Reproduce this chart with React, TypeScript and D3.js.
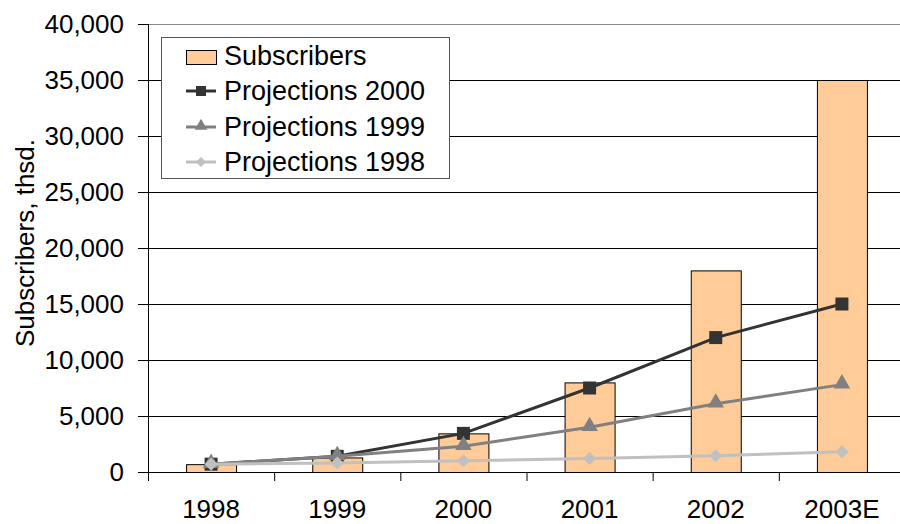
import React from 'react';
import * as d3 from 'd3';

const categories = ['1998', '1999', '2000', '2001', '2002', '2003E'];
const subscribers = [700, 1300, 3450, 8000, 18000, 35000];
const projections2000 = [700, 1400, 3450, 7500, 12000, 15000];
const projections1999 = [700, 1400, 2300, 4000, 6100, 7800];
const projections1998 = [700, 800, 1000, 1200, 1450, 1800];
const yTicks = [0, 5000, 10000, 15000, 20000, 25000, 30000, 35000, 40000];

const W = 900;
const H = 524;
const FONT = '"Liberation Sans", Arial, sans-serif';

const lineSeries = [
  { name: 'Projections 2000', values: projections2000, color: '#333333', marker: 'square' },
  { name: 'Projections 1999', values: projections1999, color: '#808080', marker: 'triangle' },
  { name: 'Projections 1998', values: projections1998, color: '#C0C0C0', marker: 'diamond' },
];

function Marker({ type, x, y, color, size }: { type: string; x: number; y: number; color: string; size: number }) {
  const sym =
    type === 'square' ? d3.symbolSquare : type === 'triangle' ? d3.symbolTriangle : d3.symbolDiamond2;
  const area = type === 'square' ? size * size : type === 'triangle' ? size * size * 0.7 : size * size * 0.65;
  const path = d3.symbol().type(sym).size(area)()!;
  const dy = type === 'triangle' ? -1 : 0;
  return <path d={path} transform={`translate(${x},${y + dy})`} fill={color} />;
}

export default function App() {
  const x = d3.scaleBand<string>().domain(categories).range([148, 905]).padding(0);
  const y = d3.scaleLinear().domain([0, 40000]).range([472, 24]);
  const fmt = d3.format(',');
  const barW = 50;
  const line = d3
    .line<number>()
    .x((_, i) => x(categories[i])! + x.bandwidth() / 2)
    .y((d) => y(d));

  const legendX = 161;
  const legendY = 37;
  const rowY = [57, 91, 127, 162];

  return (
    <svg
      width={W}
      height={H}
      style={{ position: 'absolute', left: 0, top: 0, background: '#fff' }}
      fontFamily={FONT}
    >
      {/* gridlines */}
      {yTicks.map((t) => (
        <line
          key={'g' + t}
          x1={148}
          x2={905}
          y1={y(t) + 0.5}
          y2={y(t) + 0.5}
          stroke={t === 40000 ? '#888' : '#000'}
          strokeWidth={1}
        />
      ))}
      {/* y ticks and labels */}
      {yTicks.map((t) => (
        <g key={'yt' + t}>
          <line x1={138} x2={148} y1={y(t) + 0.5} y2={y(t) + 0.5} stroke="#000" />
          <text x={124} y={y(t) + 9} textAnchor="end" fontSize={26} fill="#000">
            {fmt(t)}
          </text>
        </g>
      ))}
      {/* bars */}
      {subscribers.map((v, i) => {
        const cx = x(categories[i])! + x.bandwidth() / 2;
        return (
          <rect
            key={'b' + i}
            x={cx - barW / 2 + 0.5}
            y={y(v) + 0.5}
            width={barW}
            height={y(0) - y(v)}
            fill="#FFCC99"
            stroke="#000"
            strokeWidth={1}
          />
        );
      })}
      {/* axes */}
      <line x1={148.5} x2={148.5} y1={24} y2={472} stroke="#000" />
      <line x1={148} x2={905} y1={472.5} y2={472.5} stroke="#000" />
      {categories.map((c, i) => (
        <line
          key={'xt' + i}
          x1={x(c)! + 0.5}
          x2={x(c)! + 0.5}
          y1={472}
          y2={481}
          stroke="#000"
        />
      ))}
      {categories.map((c) => (
        <text
          key={'xl' + c}
          x={x(c)! + x.bandwidth() / 2}
          y={518}
          textAnchor="middle"
          fontSize={26}
          fill="#000"
        >
          {c}
        </text>
      ))}
      {/* lines */}
      {lineSeries.map((s) => (
        <g key={s.name}>
          <path d={line(s.values)!} fill="none" stroke={s.color} strokeWidth={3} />
          {s.values.map((v, i) => (
            <Marker
              key={i}
              type={s.marker}
              x={x(categories[i])! + x.bandwidth() / 2}
              y={y(v)}
              color={s.color}
              size={13}
            />
          ))}
        </g>
      ))}
      {/* y title */}
      <text
        transform={`translate(34,243) rotate(-90)`}
        textAnchor="middle"
        fontSize={26}
        fill="#000"
      >
        Subscribers, thsd.
      </text>
      {/* legend */}
      <rect x={legendX + 0.5} y={legendY + 0.5} width={288} height={141} fill="#fff" stroke="#555" />
      <rect x={186.5} y={50.5} width={30} height={14} fill="#FFCC99" stroke="#000" />
      <text x={224} y={65} fontSize={27} fill="#000">
        Subscribers
      </text>
      {lineSeries.map((s, k) => {
        const ry = rowY[k + 1];
        return (
          <g key={'lg' + k}>
            <line x1={186} x2={216} y1={ry} y2={ry} stroke={s.color} strokeWidth={3} />
            <Marker type={s.marker} x={201} y={ry} color={s.color} size={10} />
            <text x={224} y={ry + 9} fontSize={27} fill="#000">
              {s.name}
            </text>
          </g>
        );
      })}
    </svg>
  );
}
